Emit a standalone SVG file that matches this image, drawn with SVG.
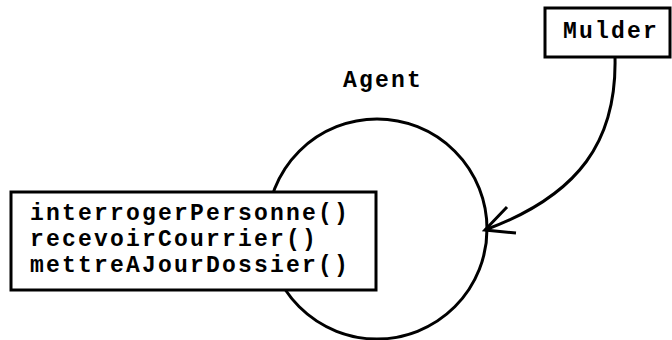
<svg xmlns="http://www.w3.org/2000/svg" width="672" height="340" viewBox="0 0 672 340">
  <style>
    .shape { fill: #fff; stroke: #000; stroke-width: 3; }
    .line { fill: none; stroke: #000; stroke-width: 3; }
    .lbl { font-family: "Liberation Mono", "Courier New", monospace; font-weight: bold; font-size: 23px; letter-spacing: 2.2px; fill: #000; }
  </style>
  <rect width="672" height="340" fill="#fff"/>

  <!-- Agent: circle with its label -->
  <g id="agent">
    <circle class="shape" cx="377" cy="229" r="110"/>
    <text class="lbl" x="343" y="87">Agent</text>
  </g>

  <!-- operations box overlapping the agent -->
  <g id="operations">
    <rect class="shape" x="11" y="192" width="365" height="98"/>
    <text class="lbl" x="30" y="220">interrogerPersonne()</text>
    <text class="lbl" x="30" y="246">recevoirCourrier()</text>
    <text class="lbl" x="30" y="272">mettreAJourDossier()</text>
  </g>

  <!-- Mulder -->
  <g id="mulder">
    <rect class="shape" x="545" y="8" width="125" height="49"/>
    <text class="lbl" x="563" y="38">Mulder</text>
  </g>

  <!-- message from Mulder to Agent -->
  <g id="connectors">
    <path class="line" d="M615,57 C617,140 580,195 485,230"/>
    <path class="line" d="M507,207 L485,230 L516,233"/>
  </g>
</svg>
